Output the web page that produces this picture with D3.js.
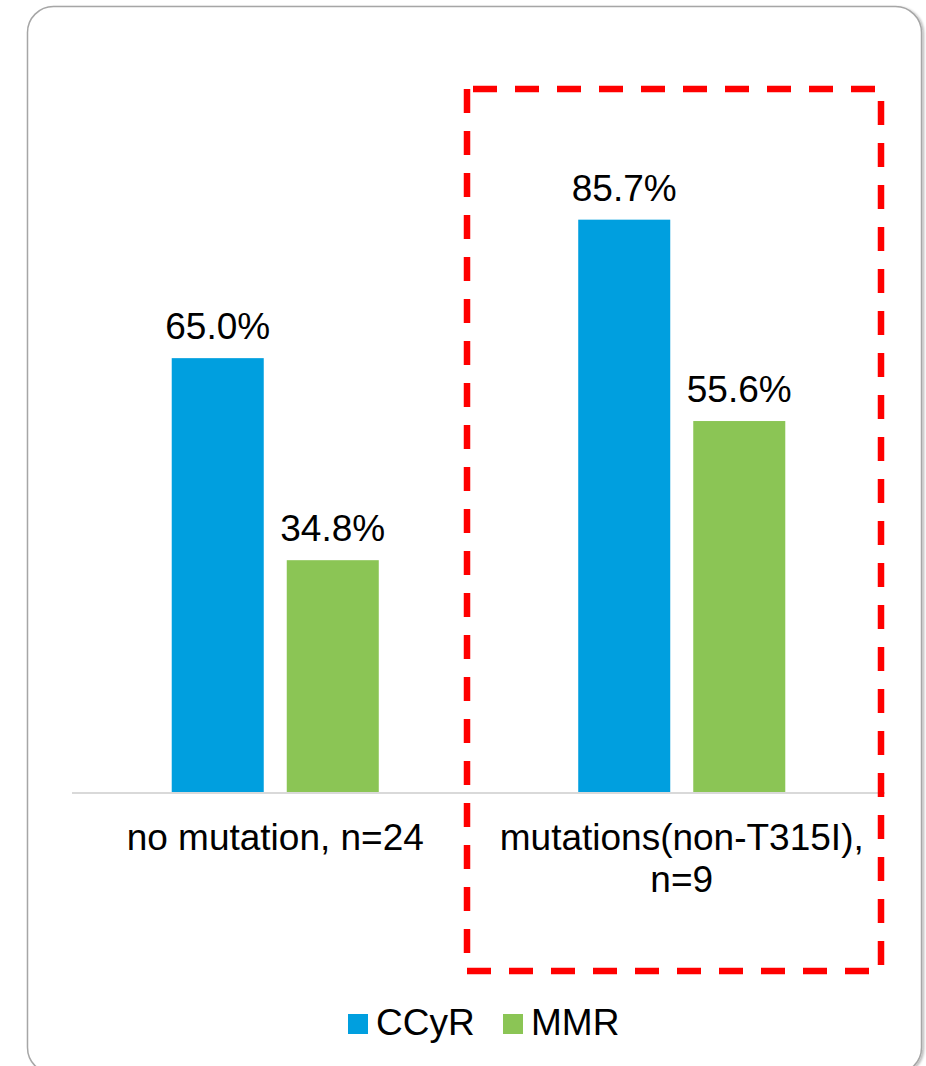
<!DOCTYPE html>
<html>
<head>
<meta charset="utf-8">
<script src="https://cdn.jsdelivr.net/npm/d3@7/dist/d3.min.js"></script>
<style>
  html, body { margin: 0; padding: 0; background: #fff; }
  svg { display: block; font-family: Arial, "Liberation Sans", sans-serif; }
</style>
</head>
<body>
<svg id="chart" width="926" height="1066"></svg>
<script>
// Response rates by mutation status
const categories = [["no mutation, n=24"], ["mutations(non-T315I),", "n=9"]];
const seriesNames = ["CCyR", "MMR"];
const ccyrValues = [65.0, 85.7];
const mmrValues = [34.8, 55.6];
const colors = ["#009fdf", "#8bc555"];

const svg = d3.select("#chart");

// card frame with a soft shadow on the right
const defs = svg.append("defs");
const f = defs.append("filter").attr("id", "shadow").attr("x", "-5%").attr("y", "-5%").attr("width", "110%").attr("height", "110%");
f.append("feDropShadow").attr("dx", 2).attr("dy", 1).attr("stdDeviation", 1.2).attr("flood-color", "#000").attr("flood-opacity", 0.25);

svg.append("rect")
  .attr("x", 27.5).attr("y", 6.5)
  .attr("width", 894).attr("height", 1067)
  .attr("rx", 26).attr("ry", 26)
  .attr("fill", "#fff")
  .attr("stroke", "#a6a6a6").attr("stroke-width", 1.5)
  .attr("filter", "url(#shadow)");

const x0 = 72, x1 = 885, yBase = 793, yTop = 124;

const x = d3.scaleBand().domain(d3.range(categories.length)).range([x0, x1]).paddingInner(0).paddingOuter(0);
const xs = d3.scaleBand().domain(seriesNames).range([0, x.bandwidth()]).paddingInner(0.2).paddingOuter(0.867);
const y = d3.scaleLinear().domain([0, 100]).range([yBase, yTop]);

const data = categories.map((c, i) => ({ i, vals: [ccyrValues[i], mmrValues[i]] }));

const groups = svg.append("g").selectAll("g").data(data).join("g")
  .attr("transform", d => `translate(${x(d.i)},0)`);

groups.selectAll("rect").data(d => d.vals.map((v, k) => ({ v, k })))
  .join("rect")
  .attr("x", d => xs(seriesNames[d.k]))
  .attr("y", d => y(d.v))
  .attr("width", xs.bandwidth())
  .attr("height", d => y(0) - y(d.v))
  .attr("fill", d => colors[d.k]);

groups.selectAll("text.val").data(d => d.vals.map((v, k) => ({ v, k })))
  .join("text")
  .attr("class", "val")
  .attr("x", d => xs(seriesNames[d.k]) + xs.bandwidth() / 2)
  .attr("y", d => y(d.v) - 19)
  .attr("text-anchor", "middle")
  .attr("font-size", 37)
  .attr("fill", "#000")
  .text(d => d.v.toFixed(1) + "%");

// baseline
svg.append("line")
  .attr("x1", x0).attr("x2", x1)
  .attr("y1", yBase).attr("y2", yBase)
  .attr("stroke", "#d9d9d9").attr("stroke-width", 2);

// category labels
const catG = svg.append("g");
categories.forEach((lines, i) => {
  const t = catG.append("text")
    .attr("x", x(i) + x.bandwidth() / 2)
    .attr("y", 850)
    .attr("text-anchor", "middle")
    .attr("font-size", 37)
    .attr("fill", "#000");
  lines.forEach((ln, j) => {
    t.append("tspan")
      .attr("x", x(i) + x.bandwidth() / 2)
      .attr("dy", j === 0 ? 0 : 42)
      .text(ln);
  });
});

// highlight box around the mutation group
svg.append("rect")
  .attr("x", 467).attr("y", 89)
  .attr("width", 414).attr("height", 882)
  .attr("fill", "none")
  .attr("stroke", "#ff0000").attr("stroke-width", 6.5)
  .attr("stroke-dasharray", "24 18")
  .attr("stroke-dashoffset", -6);

// legend
const legend = svg.append("g");
const legendX = [348, 503];
seriesNames.forEach((name, k) => {
  legend.append("rect")
    .attr("x", legendX[k]).attr("y", 1014)
    .attr("width", 20).attr("height", 20)
    .attr("fill", colors[k]);
  legend.append("text")
    .attr("x", legendX[k] + 28).attr("y", 1035)
    .attr("font-size", 37)
    .attr("fill", "#000")
    .text(name);
});
</script>
</body>
</html>
